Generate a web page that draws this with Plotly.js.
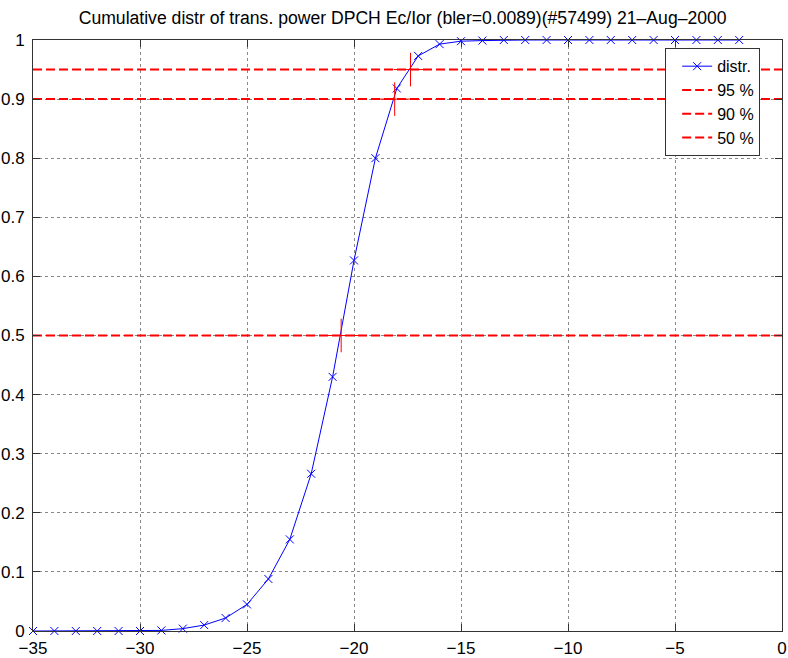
<!DOCTYPE html>
<html>
<head>
<meta charset="utf-8">
<script src="https://cdn.plot.ly/plotly-3.0.1.min.js"></script>
<style>html,body{margin:0;padding:0;background:#fff;}#chart{width:788px;height:658px;}</style>
</head>
<body>
<div id="chart"></div>
<script>
// Data
const xPower = [-35,-34,-33,-32,-31,-30,-29,-28,-27,-26,-25,-24,-23,-22,-21,-20,-19,-18,-17,-16,-15,-14,-13,-12,-11,-10,-9,-8,-7,-6,-5,-4,-3,-2];
const cdf = [0,0,0,0,0,0,0.001,0.004,0.010,0.022,0.045,0.088,0.155,0.266,0.430,0.627,0.800,0.918,0.973,0.993,0.998,0.999,1,1,1,1,1,1,1,1,1,1,1,1];
const levelNames = ["95 %","90 %","50 %"];
const levels = [0.95, 0.90, 0.50];
const levelCrossX = [-17.36, -18.1, -20.6];
const lineRange = [-35, 0];
const xTicks = [-35,-30,-25,-20,-15,-10,-5,0];
const yTicks = [0,0.1,0.2,0.3,0.4,0.5,0.6,0.7,0.8,0.9,1];

const FONT = "Liberation Sans, Arial, sans-serif";
const traces = [];
traces.push({
  x: xPower, y: cdf, name: "distr.", type: "scatter", mode: "lines+markers",
  line: {color: "#0000ff", width: 1},
  marker: {symbol: "x-thin", size: 8, line: {color: "#0000ff", width: 1}, color: "#0000ff"},
  cliponaxis: false
});
levels.forEach((lv, i) => {
  traces.push({
    x: lineRange, y: [lv, lv], name: levelNames[i], type: "scatter", mode: "lines",
    line: {color: "#ff0000", width: 2, dash: "9px,4px"}
  });
});
traces.push({
  x: levelCrossX, y: levels, type: "scatter", mode: "markers", showlegend: false, hoverinfo: "skip",
  marker: {symbol: "cross-thin", size: 24, line: {color: "#ff0000", width: 1}, color: "#ff0000"}
});

const axisCommon = {
  showline: true, linecolor: "#333", linewidth: 1, mirror: "ticks",
  ticks: "inside", ticklen: 7, tickcolor: "#333", tickwidth: 1,
  showgrid: true, gridcolor: "#888", griddash: "dot", gridwidth: 1,
  zeroline: false, tickfont: {family: FONT, size: 17, color: "#000"}
};

const layout = {
  width: 788, height: 658,
  margin: {l: 33, r: 6, t: 40, b: 27, pad: 0},
  paper_bgcolor: "#fff", plot_bgcolor: "#fff",
  showlegend: true,
  title: {text: "Cumulative distr of trans. power DPCH Ec/Ior (bler=0.0089)(#57499) 21–Aug–2000",
    font: {family: FONT, size: 17.6, color: "#000"}, x: 0.511, xanchor: "center", y: 0.973, yanchor: "middle", yref: "container"},
  xaxis: Object.assign({}, axisCommon, {range: [-35, 0], tickvals: xTicks, ticklabelstandoff: 2}),
  yaxis: Object.assign({}, axisCommon, {range: [0, 1], tickvals: yTicks, ticklabelstandoff: 4}),
  legend: {x: 0.844, y: 0.986, xanchor: "left", yanchor: "top", bgcolor: "#fff", bordercolor: "#333", borderwidth: 1,
    font: {family: FONT, size: 16, color: "#000"}, itemwidth: 30, indentation: 11}
};

Plotly.newPlot("chart", traces, layout, {displayModeBar: false, staticPlot: true});
</script>
</body>
</html>
